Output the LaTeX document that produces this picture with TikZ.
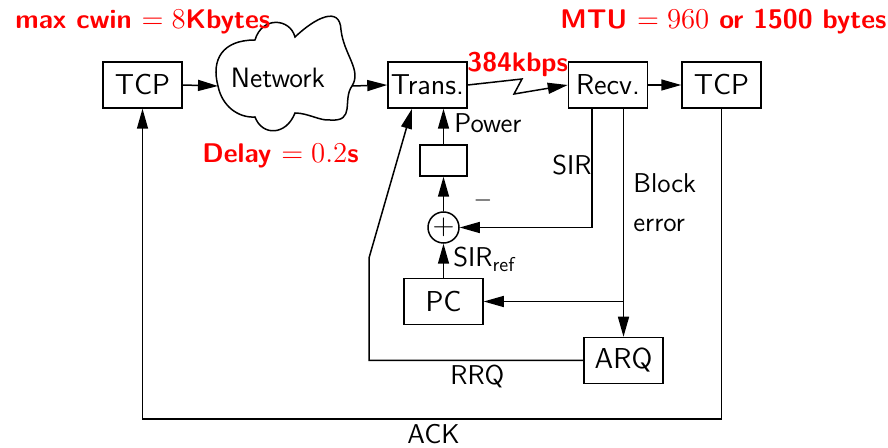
\documentclass[tikz,border=0pt]{standalone}
\usetikzlibrary{arrows.meta}
\begin{document}
\begin{tikzpicture}[x=0.5pt,y=-0.5pt,
  every node/.style={font=\sffamily},
  box/.style={draw,line width=0.75pt,minimum width=39.5pt,minimum height=23pt,inner sep=0pt,font=\sffamily\fontsize{14.4}{17}\selectfont},
  sbox/.style={draw,line width=0.75pt,minimum width=23.5pt,minimum height=15.5pt,inner sep=0pt},
  lbl/.style={anchor=base west,inner sep=0pt,font=\sffamily\fontsize{13.6}{16}\selectfont},
  redlbl/.style={anchor=base west,inner sep=0pt,text=red,font=\sffamily\bfseries\fontsize{13.5}{16}\selectfont},
  arr/.style={line width=0.75pt,-{Triangle[length=10pt,width=5.5pt]}},
  ln/.style={line width=0.75pt}]
\useasboundingbox (0,0) rectangle (888,448);
% cloud
\draw[ln] (218,86) .. controls (211,60) and (222,40) .. (255,40)
  .. controls (262,16) and (290,18) .. (295,37)
  .. controls (315,18) and (340,5) .. (341,30)
  .. controls (344,55) and (362,70) .. (352,86)
  .. controls (342,100) and (356,122) .. (330,120)
  .. controls (320,121) and (308,113) .. (295,113)
  .. controls (286,136) and (262,136) .. (255,117)
  .. controls (238,118) and (222,106) .. (218,86);
\node[inner sep=0pt,font=\sffamily\fontsize{14}{16}\selectfont] (net) at (278,78) {Network};
\coordinate (netW) at (218,86);
\coordinate (netE) at (352,86);
% boxes
\node[box] (tcpL) at (142.5,85) {TCP};
\node[box] (trans) at (427.5,85) {Trans.};
\node[box] (recv) at (608,85) {Recv.};
\node[box] (tcpR) at (721.5,85) {TCP};
\node[sbox] (pw) at (443.5,160.5) {};
\node[circle,draw,line width=0.75pt,minimum size=15.5pt,inner sep=0pt,font=\fontsize{14}{16}\selectfont] (sum) at (443.5,227.5) {$+$};
\node[box] (pc) at (443.5,301.5) {PC};
\node[box] (arq) at (623.5,360.5) {ARQ};
\coordinate (ackY) at (0,419);
\coordinate (rrqC) at (369,258);
\coordinate (z1) at (522,79);
\coordinate (z2) at (514,94);
% connectors
\draw[arr] (tcpL.east) -- (netW);
\draw[arr] (netE) -- (trans.west);
\draw[arr] (trans.east) -- (z1) -- (z2) -- (recv.west);
\draw[arr] (recv.east) -- (tcpR.west);
\draw[arr] (tcpR.south) -- (tcpR.south |- ackY) -| (tcpL.south);
\draw[arr] (arq.west) -| (rrqC) -- ([xshift=-7.75pt]trans.south);
\draw[arr] ([xshift=-8pt]recv.south) |- (sum.east);
\draw[arr] ([xshift=7.75pt]recv.south) -- (arq.north);
\draw[arr] (arq.north |- pc.east) -- (pc.east);
\draw[arr] (pc.north) -- (sum.south);
\draw[arr] (sum.north) -- (pw.south);
\draw[arr] (pw.north) -- (pw.north |- trans.south);
% labels
\node[redlbl] (l1) at (15,29) {max cwin $=8$Kbytes};
\node[redlbl] (l2) at (560,29) {MTU $=960$ or 1500 bytes};
\node[redlbl] (l3) at (202,163) {Delay $=0.2$s};
\node[redlbl] (l4) at (467,72) {384kbps};
\node[lbl] (l5) at (454,133) {Power};
\node[lbl] (l6) at (552,175) {SIR};
\node[lbl] (l7) at (633,193) {Block};
\node[lbl] (l8) at (633,232) {error};
\node[inner sep=0pt,font=\fontsize{13}{15}\selectfont] (l9) at (483,201) {$-$};
\node[lbl] (l10) at (453,267) {SIR$_{\mathsf{ref}}$};
\node[lbl] (l11) at (450,385) {RRQ};
\node[lbl] (l12) at (407,443) {ACK};
\end{tikzpicture}
\end{document}
